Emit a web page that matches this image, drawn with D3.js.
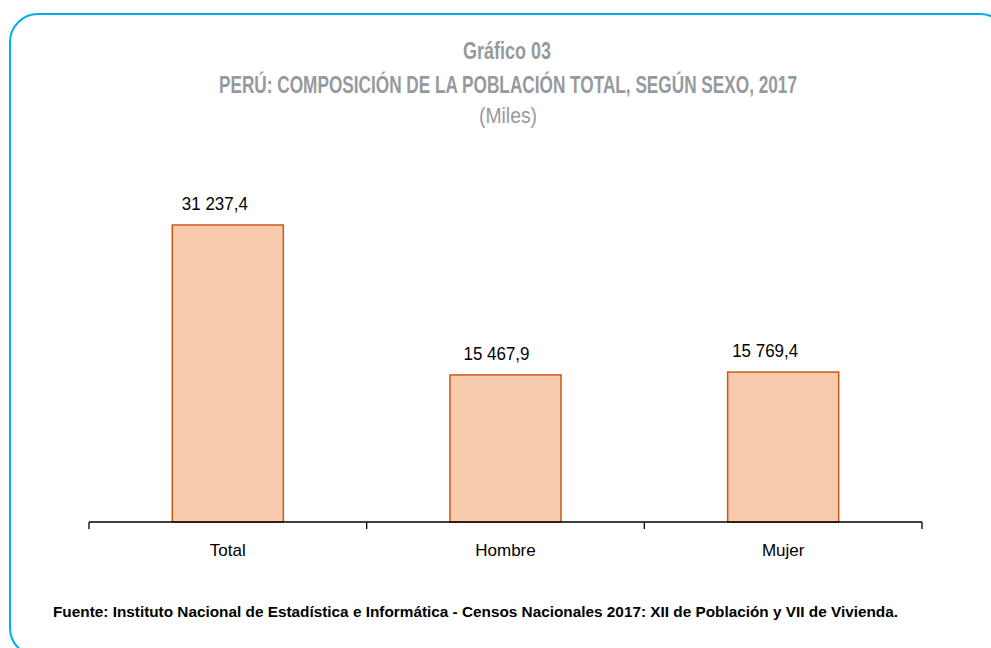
<!DOCTYPE html>
<html><head><meta charset="utf-8">
<script src="https://cdn.jsdelivr.net/npm/d3@7"></script>
<style>body{margin:0;background:#fff;}svg{display:block;}</style>
</head><body>
<script>
const categories = ["Total", "Hombre", "Mujer"];
const values = [31237.4, 15467.9, 15769.4];
const valueLabels = ["31 237,4", "15 467,9", "15 769,4"];
const titleLines = ["Gráfico 03", "PERÚ: COMPOSICIÓN DE LA POBLACIÓN TOTAL, SEGÚN SEXO, 2017", "(Miles)"];
const source = "Fuente: Instituto Nacional de Estadística e Informática - Censos Nacionales 2017: XII de Población y VII de Vivienda.";

const W = 991, H = 648;
const svg = d3.select("body").append("svg").attr("width", W).attr("height", H);

svg.append("rect").attr("x", 10).attr("y", 14).attr("width", 998).attr("height", 642)
  .attr("rx", 28).attr("fill", "none").attr("stroke", "#00aeef").attr("stroke-width", 2);

const narrow = "'Liberation Sans Narrow', 'Arial Narrow', 'Liberation Sans', Arial, sans-serif";
const titleColor = "#959a9e";
svg.append("text").attr("x", 507).attr("y", 59).attr("text-anchor", "middle")
  .attr("font-family", narrow).attr("font-weight", "bold").attr("font-size", 23)
  .attr("fill", titleColor).attr("textLength", 88).attr("lengthAdjust", "spacingAndGlyphs").text(titleLines[0]);
svg.append("text").attr("x", 508).attr("y", 93).attr("text-anchor", "middle")
  .attr("font-family", narrow).attr("font-weight", "bold").attr("font-size", 23)
  .attr("fill", titleColor).attr("textLength", 578).attr("lengthAdjust", "spacingAndGlyphs").text(titleLines[1]);
svg.append("text").attr("x", 508).attr("y", 123).attr("text-anchor", "middle")
  .attr("font-family", narrow).attr("font-size", 22)
  .attr("fill", titleColor).attr("textLength", 58).attr("lengthAdjust", "spacingAndGlyphs").text(titleLines[2]);

const x0 = 89, x1 = 922, yBase = 522;
const x = d3.scaleBand().domain(categories).range([x0, x1]).paddingInner(0.6).paddingOuter(0.3);
const y = d3.scaleLinear().domain([0, 35000]).range([yBase, yBase - 35000 * 297 / 31237.4]);

const data = categories.map((c, i) => ({c, v: values[i], l: valueLabels[i]}));

svg.selectAll("rect.bar").data(data).join("rect").attr("class", "bar")
  .attr("x", d => x(d.c)).attr("y", d => y(d.v))
  .attr("width", x.bandwidth()).attr("height", d => y(0) - y(d.v))
  .attr("fill", "#f8cbad").attr("stroke", "#c8581a").attr("stroke-width", 1.5);

const labelOffsets = [-13, -9, -18];
svg.selectAll("text.val").data(data).join("text").attr("class", "val")
  .attr("x", (d, i) => x(d.c) + x.bandwidth() / 2 + labelOffsets[i]).attr("y", d => y(d.v) - 15)
  .attr("text-anchor", "middle").attr("font-family", narrow).attr("font-size", 18).attr("fill", "#000")
  .attr("textLength", 66).attr("lengthAdjust", "spacingAndGlyphs")
  .text(d => d.l);

// axis
const tickXs = d3.range(categories.length + 1).map(i => x0 + i * (x1 - x0) / categories.length);
svg.append("line").attr("x1", x0).attr("x2", x1).attr("y1", yBase).attr("y2", yBase)
  .attr("stroke", "#000").attr("stroke-width", 1.3);
svg.selectAll("line.tick").data(tickXs).join("line").attr("class", "tick")
  .attr("x1", d => d).attr("x2", d => d).attr("y1", yBase).attr("y2", yBase + 7)
  .attr("stroke", "#000").attr("stroke-width", 1.3);
svg.selectAll("text.cat").data(categories).join("text").attr("class", "cat")
  .attr("x", d => x(d) + x.bandwidth() / 2).attr("y", 556).attr("text-anchor", "middle")
  .attr("font-family", narrow).attr("font-size", 17).attr("fill", "#000").text(d => d);

svg.append("text").attr("x", 53).attr("y", 617)
  .attr("font-family", narrow).attr("font-weight", "bold").attr("font-size", 15).attr("fill", "#000")
  .attr("textLength", 845).attr("lengthAdjust", "spacingAndGlyphs").text(source);
</script>
</body></html>
